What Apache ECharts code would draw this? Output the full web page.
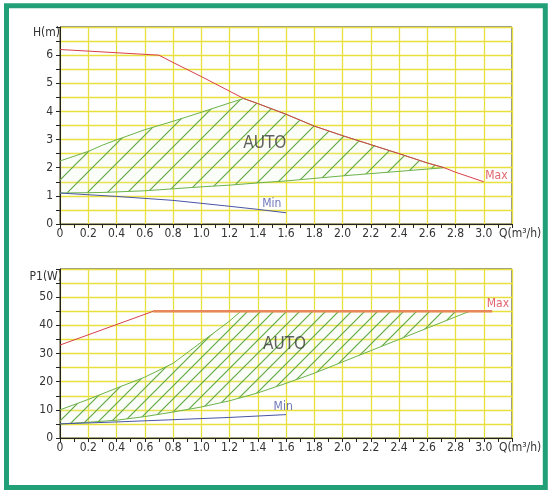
<!DOCTYPE html>
<html>
<head>
<meta charset="utf-8">
<script src="https://cdn.jsdelivr.net/npm/echarts@6/dist/echarts.min.js"></script>
<style>
  html, body { margin: 0; padding: 0; background: #fff; }
  #chart { width: 556px; height: 496px; }
</style>
</head>
<body>
<div id="chart"></div>
<script>
// x axis labels (Q, m3/h)
var qLabels = ['0', '0.2', '0.4', '0.6', '0.8', '1.0', '1.2', '1.4', '1.6', '1.8', '2.0', '2.2', '2.4', '2.6', '2.8', '3.0', ''];
var hLabels = ['0', '1', '2', '3', '4', '5', '6', ''];
var pLabels = ['0', '10', '20', '30', '40', '50', ''];

// top chart: head H(m)
var maxHQ = [0, 0.7, 0.8, 1.0, 1.2, 1.3, 1.4, 1.6, 1.8, 2.0, 2.2, 2.4, 2.6, 2.72, 2.8, 3.0];
var maxH = [6.2, 6.0, 5.74, 5.24, 4.72, 4.46, 4.28, 3.9, 3.48, 3.14, 2.82, 2.5, 2.17, 2.0, 1.84, 1.5];
var minHQ = [0, 0.4, 0.8, 1.2, 1.4, 1.6];
var minH = [1.1, 0.98, 0.84, 0.63, 0.52, 0.4];
var autoUpHQ = [0, 0.2, 0.3, 0.4, 0.6, 0.8, 1.0, 1.2, 1.3, 1.4, 1.6, 1.8, 2.0, 2.2, 2.4, 2.6, 2.72];
var autoUpH = [2.24, 2.58, 2.8, 2.99, 3.35, 3.65, 3.97, 4.3, 4.46, 4.28, 3.9, 3.48, 3.14, 2.82, 2.5, 2.17, 2.0];
var autoLoHQ = [0, 0.3, 0.6, 0.8, 1.0, 1.2, 1.4, 1.6, 2.0, 2.4, 2.72];
var autoLoH = [1.1, 1.12, 1.18, 1.25, 1.32, 1.38, 1.46, 1.53, 1.71, 1.87, 2.0];
var topTagText = ['AUTO', 'Max', 'Min'];
var topTagQ = [1.45, 3.09, 1.5];
var topTagH = [2.86, 1.7, 0.71];

// bottom chart: power P1(W)
var maxPQ = [0, 0.66, 3.06];
var maxP = [33, 45, 45];
var minPQ = [0, 0.4, 0.8, 1.2, 1.6];
var minP = [5, 5.7, 6.5, 7.3, 8.3];
var autoUpPQ = [0, 0.2, 0.4, 0.6, 0.8, 1.0, 1.2, 1.28, 2.9];
var autoUpP = [10, 13.7, 17.7, 21.6, 26.5, 34, 41.5, 45, 45];
var autoLoPQ = [0, 0.2, 0.4, 0.6, 0.8, 1.0, 1.2, 1.4, 1.6, 1.8, 2.0, 2.2, 2.4, 2.6, 2.8, 2.9];
var autoLoP = [5, 5.6, 6.3, 7.6, 9.2, 11, 13.2, 16, 19.4, 23, 27, 31, 35, 39, 43, 45];
var botTagText = ['AUTO', 'Max', 'Min'];
var botTagQ = [1.59, 3.1, 1.58];
var botTagP = [33.2, 47.7, 11.0];

var FONT = 'DejaVu Sans Condensed';
var GRID_YELLOW = '#e8e03e';
var LINE_GREEN = '#6cb24a';
var tagColors = { AUTO: '#3a3a3a', Max: '#d8404a', Min: '#4a55a6' };

// 斜线填充
function hatch(size) {
    var c = document.createElement('canvas');
    c.width = size;
    c.height = size;
    var ctx = c.getContext('2d');
    ctx.fillStyle = 'rgba(220,240,205,0.15)';
    ctx.fillRect(0, 0, size, size);
    ctx.strokeStyle = '#62a845';
    ctx.lineWidth = 1.2;
    ctx.beginPath();
    ctx.moveTo(0, size); ctx.lineTo(size, 0);
    ctx.moveTo(-2, 2); ctx.lineTo(2, -2);
    ctx.moveTo(size - 2, size + 2); ctx.lineTo(size + 2, size - 2);
    ctx.stroke();
    return c;
}

function pairs(xs, ys) {
    var out = [];
    for (var i = 0; i < xs.length; i++) out.push([xs[i], ys[i]]);
    return out;
}

function areaSeries(idx, upQ, upV, loQ, loV, pat) {
    return {
        type: 'custom',
        xAxisIndex: idx,
        yAxisIndex: idx,
        silent: true,
        z: 1,
        data: [[0, 0]],
        renderItem: function(params, api) {
            var pts = [];
            for (var i = 0; i < upQ.length; i++) pts.push(api.coord([upQ[i], upV[i]]));
            for (var j = loQ.length - 1; j >= 0; j--) pts.push(api.coord([loQ[j], loV[j]]));
            return {
                type: 'polygon',
                shape: { points: pts },
                style: { fill: { image: pat, repeat: 'repeat' }, stroke: null }
            };
        }
    };
}

function lineSeries(idx, data, color, width) {
    return {
        type: 'line',
        xAxisIndex: idx,
        yAxisIndex: idx,
        data: data,
        symbol: 'none',
        silent: true,
        z: 3,
        lineStyle: { color: color, width: width || 1 }
    };
}

function tagSeries(idx, texts, xs, ys) {
    var data = [];
    for (var i = 0; i < texts.length; i++) {
        data.push({
            value: [xs[i], ys[i]],
            name: texts[i],
            label: {
                color: tagColors[texts[i]],
                fontSize: texts[i] == 'AUTO' ? 17 : 12
            }
        });
    }
    return {
        type: 'scatter',
        xAxisIndex: idx,
        yAxisIndex: idx,
        symbolSize: 1,
        silent: true,
        z: 5,
        itemStyle: { color: 'rgba(0,0,0,0)' },
        label: {
            show: true,
            position: 'inside',
            fontFamily: FONT,
            formatter: function(p) { return p.name; }
        },
        data: data
    };
}

function xAxisCfg(idx) {
    return {
        type: 'value',
        gridIndex: idx,
        min: 0,
        max: 3.2,
        interval: 0.2,
        axisLine: { lineStyle: { color: '#222', width: 1 } },
        axisTick: { show: true, length: 4, lineStyle: { color: '#222' } },
        minorTick: { show: true, splitNumber: 2, length: 4, lineStyle: { color: '#222' } },
        splitLine: { show: true, lineStyle: { color: GRID_YELLOW, width: 1.3 } },
        axisLabel: {
            margin: 4,
            fontFamily: FONT,
            fontSize: 12,
            color: '#333',
            formatter: function(v) { return qLabels[Math.round(v / 0.2)] || ''; }
        }
    };
}

function yAxisCfg(idx, max, step, labels, labelStep) {
    return {
        type: 'value',
        gridIndex: idx,
        min: 0,
        max: max,
        interval: step,
        axisLine: { show: true, lineStyle: { color: '#222', width: 1 } },
        axisTick: { show: true, length: 4, lineStyle: { color: '#222' } },
        splitLine: { show: true, lineStyle: { color: GRID_YELLOW, width: 1.3 } },
        axisLabel: {
            margin: 7,
            fontFamily: FONT,
            fontSize: 12,
            color: '#333',
            formatter: function(v) {
                var k = Math.round(v / labelStep);
                if (Math.abs(v - k * labelStep) > 1e-6) return '';
                return labels[k] || '';
            }
        }
    };
}

var topPat = hatch(20);
var botPat = hatch(13);

var myChart = echarts.init(document.getElementById('chart'));
var option = {
    animation: false,
    backgroundColor: '#fff',
    grid: [
        { left: 60, right: 44, top: 27, height: 197, show: true, borderColor: '#222', borderWidth: 1 },
        { left: 60, right: 44, top: 269, height: 169, show: true, borderColor: '#222', borderWidth: 1 }
    ],
    xAxis: [xAxisCfg(0), xAxisCfg(1)],
    yAxis: [
        yAxisCfg(0, 7, 0.5, hLabels, 1),
        yAxisCfg(1, 60, 5, pLabels, 10)
    ],
    graphic: [
        { type: 'rect', shape: { x: 6.5, y: 5.8, width: 538.8, height: 481.7 }, style: { fill: null, stroke: '#21a078', lineWidth: 5 }, silent: true },
        { type: 'text', x: 60, y: 33, style: { text: 'H(m)', font: '12px "' + FONT + '"', fill: '#333', align: 'right', verticalAlign: 'middle' } },
        { type: 'text', x: 62, y: 277, style: { text: 'P1(W)', font: '12px "' + FONT + '"', fill: '#333', align: 'right', verticalAlign: 'middle' } },
        { type: 'text', x: 499, y: 234, style: { text: 'Q(m³/h)', font: '12px "' + FONT + '"', fill: '#333', align: 'left', verticalAlign: 'middle' } },
        { type: 'text', x: 499, y: 448, style: { text: 'Q(m³/h)', font: '12px "' + FONT + '"', fill: '#333', align: 'left', verticalAlign: 'middle' } }
    ],
    series: [
        areaSeries(0, autoUpHQ, autoUpH, autoLoHQ, autoLoH, topPat),
        lineSeries(0, pairs(autoUpHQ, autoUpH), LINE_GREEN),
        lineSeries(0, pairs(autoLoHQ, autoLoH), LINE_GREEN),
        lineSeries(0, pairs(maxHQ, maxH), '#d8404a'),
        lineSeries(0, pairs(minHQ, minH), '#4a55a6'),
        tagSeries(0, topTagText, topTagQ, topTagH),

        areaSeries(1, autoUpPQ, autoUpP, autoLoPQ, autoLoP, botPat),
        lineSeries(1, pairs(autoUpPQ, autoUpP), LINE_GREEN),
        lineSeries(1, pairs(autoLoPQ, autoLoP), LINE_GREEN),
        lineSeries(1, pairs(maxPQ.slice(0, 2), maxP.slice(0, 2)), '#d8404a'),
        lineSeries(1, pairs(maxPQ.slice(1), maxP.slice(1)), '#e8875c', 2.5),
        lineSeries(1, pairs(minPQ, minP), '#4a55a6'),
        tagSeries(1, botTagText, botTagQ, botTagP)
    ]
};
myChart.setOption(option);
</script>
</body>
</html>
